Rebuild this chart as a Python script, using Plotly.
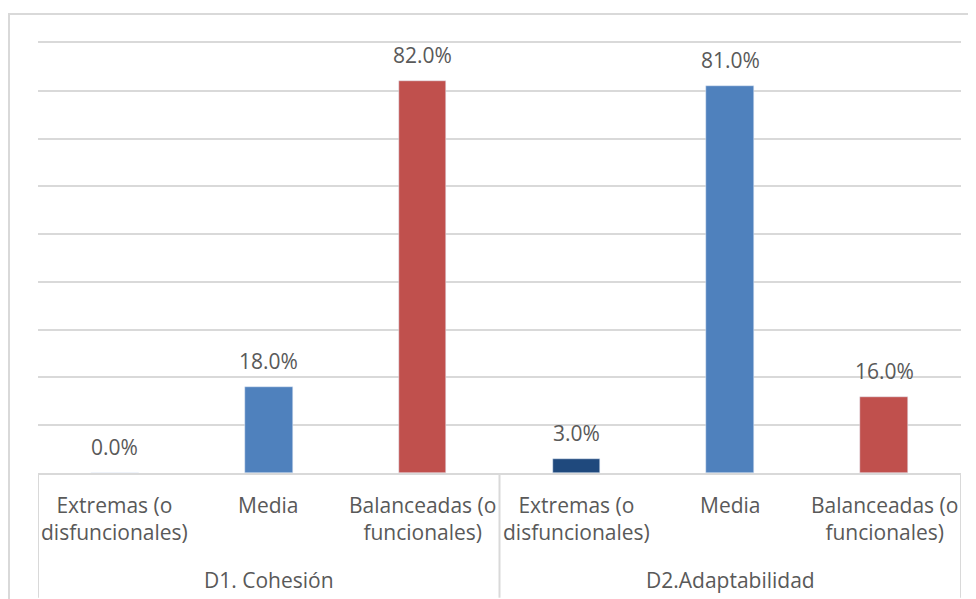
import plotly.graph_objects as go

groups = ["D1. Cohesión", "D2.Adaptabilidad"]
categories = ["Extremas (o<br>disfuncionales)", "Media", "Balanceadas (o<br>funcionales)"]
values_d1 = [0.00, 0.18, 0.82]
values_d2 = [0.03, 0.81, 0.16]
bar_colors = ["#1F497D", "#4F81BD", "#C0504D"]

FONT = "Open Sans"
FS = 21
TXT = "#595959"
GRID = "#D9D9D9"

values = values_d1 + values_d2
labels = categories + categories
colors = bar_colors + bar_colors
xs = list(range(len(values)))

fig = go.Figure()
fig.add_trace(go.Bar(x=xs, y=values, marker_color=colors, width=0.31,
                     hoverinfo="skip", showlegend=False))

annotations = []
for x, v in zip(xs, values):
    annotations.append(dict(x=x, y=v, xref="x", yref="y", text=f"{v*100:.1f}%",
                            showarrow=False, yanchor="bottom", yshift=10,
                            font=dict(family=FONT, size=FS, color=TXT)))
for x, lab in zip(xs, labels):
    annotations.append(dict(x=x, y=0, xref="x", yref="paper", text=lab,
                            showarrow=False, yanchor="top", yshift=-16,
                            font=dict(family=FONT, size=FS, color=TXT)))
n = len(categories)
for gi, g in enumerate(groups):
    annotations.append(dict(x=gi * n + (n - 1) / 2, y=0, xref="x", yref="paper", text=g,
                            showarrow=False, yanchor="top", yshift=-91,
                            font=dict(family=FONT, size=FS, color=TXT)))

shapes = []
for gi in range(len(groups) + 1):
    shapes.append(dict(type="line", xref="x", yref="paper", x0=gi * n - 0.5, x1=gi * n - 0.5,
                       y0=0, y1=-0.29, line=dict(color=GRID, width=2)))
shapes.append(dict(type="rect", xref="paper", yref="paper", x0=-0.0314, x1=1.2,
                   y0=-0.6, y1=1.0674, line=dict(color=GRID, width=2), layer="below"))

# the page body has an 8px margin, so the figure is 8px smaller and the margins compensate
fig.update_layout(
    width=968, height=591, autosize=False,
    margin=dict(l=30, r=15, t=35, b=126),
    paper_bgcolor="white", plot_bgcolor="white",
    xaxis=dict(range=[-0.5, len(values) - 0.5], showticklabels=False, showgrid=False,
               zeroline=False, showline=True, mirror=True, linecolor=GRID, linewidth=2,
               fixedrange=True),
    yaxis=dict(range=[0, 0.9], dtick=0.1, showgrid=True, gridcolor=GRID, gridwidth=2,
               showticklabels=False, zeroline=False, showline=False, fixedrange=True),
    annotations=annotations, shapes=shapes, bargap=0,
)

fig.write_html("out.html")
